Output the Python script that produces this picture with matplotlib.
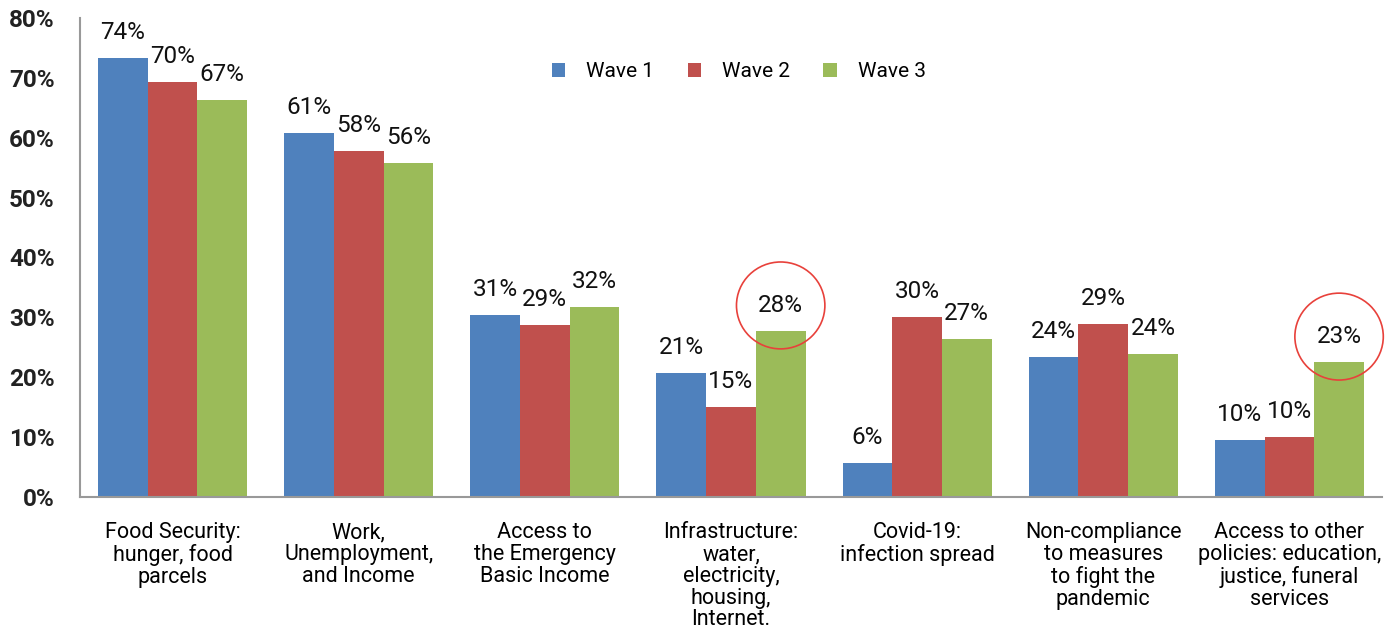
import numpy as np
import matplotlib.pyplot as plt
from matplotlib.patches import Ellipse

categories = [
    "Food Security:\nhunger, food\nparcels",
    "Work,\nUnemployment,\nand Income",
    "Access to\nthe Emergency\nBasic Income",
    "Infrastructure:\nwater,\nelectricity,\nhousing,\nInternet.",
    "Covid-19:\ninfection spread",
    "Non-compliance\nto measures\nto fight the\npandemic",
    "Access to other\npolicies: education,\njustice, funeral\nservices",
]
wave1 = [73.3, 60.8, 30.4, 20.7, 5.7, 23.4, 9.5]
wave2 = [69.3, 57.8, 28.7, 15.0, 30.0, 28.9, 10.0]
wave3 = [66.3, 55.8, 31.7, 27.7, 26.4, 23.9, 22.5]
labels1 = ["74%", "61%", "31%", "21%", "6%", "24%", "10%"]
labels2 = ["70%", "58%", "29%", "15%", "30%", "29%", "10%"]
labels3 = ["67%", "56%", "32%", "28%", "27%", "24%", "23%"]
series = ["Wave 1", "Wave 2", "Wave 3"]
colors = ["#4F81BD", "#C0504D", "#9BBB59"]
circled = [(2, 3), (2, 6)]  # (series index, category index)

plt.rcParams['font.family'] = ['Roboto', 'DejaVu Sans']

fig = plt.figure(figsize=(13.95, 6.35), dpi=100)
ax = fig.add_axes([0.057, 0.217, 0.934, 0.755])

x = np.arange(len(categories))
w = 0.267
data = [wave1, wave2, wave3]
labs = [labels1, labels2, labels3]
for i in range(3):
    xs = x + (i - 1) * w
    ax.bar(xs, data[i], width=w, color=colors[i], label=series[i])
    for xi, v, t in zip(xs, data[i], labs[i]):
        ax.text(xi, v + 4.3, t, ha='center', va='center', fontsize=17.5, color='#111111')

for si, ci in circled:
    cx = x[ci] + (si - 1) * w
    cy = data[si][ci] + 4.3
    ax.add_patch(Ellipse((cx, cy), width=0.475, height=14.5, fill=False,
                         edgecolor='#E8413B', linewidth=1.2, clip_on=False))

ax.set_xlim(-0.5, len(categories) - 0.5)
ax.set_ylim(0, 80)
ax.set_yticks(range(0, 81, 10))
ax.set_yticklabels([f"{t}%" for t in range(0, 81, 10)], fontsize=17.5, fontweight='bold', color='#222222')
ax.set_xticks(x)
ax.set_xticklabels(categories, fontsize=15.5, linespacing=1.05)
ax.tick_params(axis='both', length=0)
ax.tick_params(axis='y', pad=18)
ax.tick_params(axis='x', pad=18)
for s in ['top', 'right']:
    ax.spines[s].set_visible(False)
for s in ['left', 'bottom']:
    ax.spines[s].set_color('#999999')
    ax.spines[s].set_linewidth(1.5)

ax.legend(loc='center', bbox_to_anchor=(0.506, 0.887), ncol=3, frameon=False,
          fontsize=15, handlelength=0.65, handleheight=0.65, columnspacing=1.6, handletextpad=1.0)

plt.savefig('out.png', dpi=100)
